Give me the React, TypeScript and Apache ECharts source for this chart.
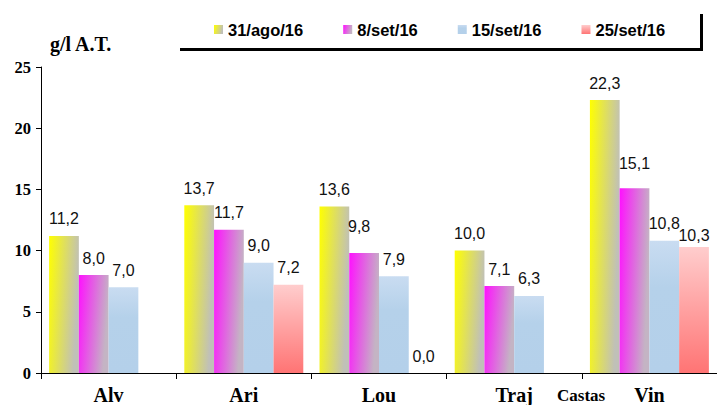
import React, { useEffect, useRef } from "react";
import * as echarts from "echarts";

const categories = ["Alv", "Ari", "Lou", "Traj", "Vin"];
const seriesNames = ["31/ago/16", "8/set/16", "15/set/16", "25/set/16"];
const ago31 = [11.2, 13.7, 13.6, 10.0, 22.3];
const set8 = [8.0, 11.7, 9.8, 7.1, 15.1];
const set15 = [7.0, 9.0, 7.9, 6.3, 10.8];
const set25: (number | null)[] = [null, 7.2, 0.0, null, 10.3];
const yMin = 0;
const yMax = 25;
const yStep = 5;
const yAxisTitle = "g/l A.T.";
const xAxisTitle = "Castas";

// label nudges (series index - data index) : [dx, dy]
const labelNudges: Record<string, [number, number]> = {
  "1-4": [0, -8],
  "1-2": [-5, -10],
  "3-4": [0, 6],
};

const SERIF = "'Liberation Serif', 'Times New Roman', serif";
const SANS = "'Liberation Sans', Arial, sans-serif";

function makeColors() {
  return [
    new echarts.graphic.LinearGradient(0, 0, 1, 0.25, [
      { offset: 0, color: "#ffff00" },
      { offset: 1, color: "#c0c0b8" },
    ]),
    new echarts.graphic.LinearGradient(0, 0, 1, 0.25, [
      { offset: 0, color: "#ff10ff" },
      { offset: 1, color: "#c4b4c4" },
    ]),
    new echarts.graphic.LinearGradient(0, 0, 0, 1, [
      { offset: 0, color: "#c9dcf1" },
      { offset: 0.35, color: "#b5d1ea" },
      { offset: 1, color: "#b4d0ea" },
    ]),
    new echarts.graphic.LinearGradient(0, 0, 0, 1, [
      { offset: 0, color: "#ffcdcd" },
      { offset: 1, color: "#ff7474" },
    ]),
  ];
}

export default function App() {
  const ref = useRef<HTMLDivElement>(null);

  useEffect(() => {
    if (!ref.current) return;
    const chart = echarts.init(ref.current, undefined, { renderer: "svg" });
    const colors = makeColors();
    const allData = [ago31, set8, set15, set25];

    const series = allData.map((arr, si) => ({
      name: seriesNames[si],
      type: "bar",
      barGap: "0%",
      barCategoryGap: "12%",
      itemStyle: { color: colors[si] },
      label: {
        show: true,
        position: "top",
        distance: 9,
        color: "#111",
        fontFamily: SANS,
        fontSize: 16,
        formatter: (p: any) =>
          p.value == null ? "" : Number(p.value).toFixed(1).replace(".", ","),
      },
      data: arr.map((v, di) => {
        const n = labelNudges[`${si}-${di}`];
        if (n) return { value: v, label: { offset: n } };
        return v;
      }),
    }));

    chart.setOption({
      animation: false,
      backgroundColor: "#ffffff",
      grid: { left: 41, top: 67, width: 678, bottom: 32, containLabel: false },
      legend: {
        left: 214,
        top: 21,
        padding: 0,
        itemGap: 40,
        itemWidth: 9,
        itemHeight: 9,
        icon: "rect",
        data: seriesNames,
        textStyle: {
          fontFamily: SANS,
          fontWeight: "bold",
          fontSize: 16.5,
          color: "#000",
        },
      },
      xAxis: {
        type: "category",
        data: categories,
        axisLine: { lineStyle: { color: "#000", width: 1 } },
        axisTick: { show: true, length: 6, alignWithLabel: false, lineStyle: { color: "#000" } },
        axisLabel: {
          margin: 12,
          fontFamily: SERIF,
          fontWeight: "bold",
          fontSize: 20,
          color: "#000",
        },
        splitLine: { show: false },
      },
      yAxis: {
        type: "value",
        min: yMin,
        max: yMax,
        interval: yStep,
        axisLine: { show: true, lineStyle: { color: "#000", width: 1 } },
        axisTick: { show: true, length: 5, lineStyle: { color: "#000" } },
        axisLabel: {
          margin: 10,
          fontFamily: SERIF,
          fontWeight: "bold",
          fontSize: 16.5,
          color: "#000",
        },
        splitLine: { show: false },
      },
      graphic: [
        {
          type: "text",
          left: 50,
          top: 34,
          style: {
            text: yAxisTitle,
            font: `bold 20px ${SERIF}`,
            fill: "#000",
          },
        },
        {
          type: "text",
          left: 557,
          top: 387,
          style: {
            text: xAxisTitle,
            font: `bold 17px ${SERIF}`,
            fill: "#000",
          },
        },
        {
          type: "rect",
          shape: { x: 180, y: 48, width: 523, height: 3 },
          style: { fill: "#000" },
        },
        {
          type: "rect",
          shape: { x: 700, y: 14, width: 3, height: 37 },
          style: { fill: "#000" },
        },
      ],
      series,
    });

    return () => chart.dispose();
  }, []);

  return (
    <div
      ref={ref}
      style={{ position: "absolute", left: 0, top: 0, width: 717, height: 405 }}
    />
  );
}
